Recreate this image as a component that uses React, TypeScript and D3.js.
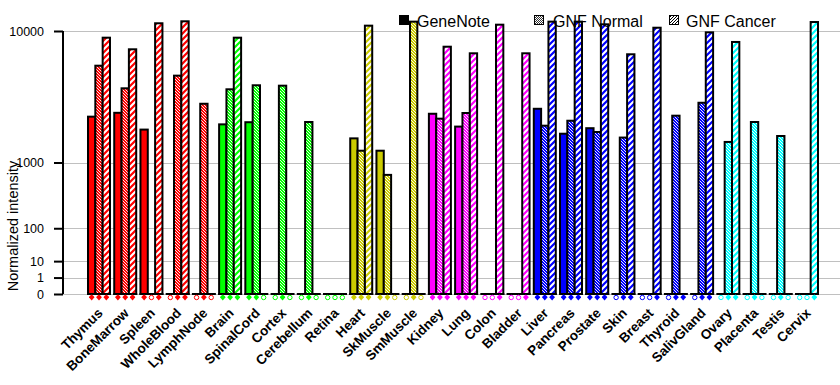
import * as React from 'react';
import { useRef, useEffect } from 'react';
import * as d3 from 'd3';

const categories = [
  'Thymus', 'BoneMarrow', 'Spleen', 'WholeBlood', 'LymphNode',
  'Brain', 'SpinalCord', 'Cortex', 'Cerebellum', 'Retina',
  'Heart', 'SkMuscle', 'SmMuscle',
  'Kidney', 'Lung', 'Colon', 'Bladder',
  'Liver', 'Pancreas', 'Prostate', 'Skin', 'Breast', 'Thyroid', 'SalivGland',
  'Ovary', 'Placenta', 'Testis', 'Cervix',
];

const geneNote = [2700, 2900, 2100, 0, 0, 2330, 2430, 0, 0, 0, 1750, 1330, 0, 2850, 2230, 0, 0, 3120, 1930, 2160, 0, 0, 0, 0, 0, 0, 0, 0];
const gnfNormal = [6250, 4420, 0, 5390, 3410, 4350, 4640, 4610, 2440, 0, 1330, 720, 11230, 2600, 2890, 0, 0, 2270, 2500, 2000, 1780, 0, 2750, 3470, 1620, 2440, 1840, 0];
const gnfCancer = [9180, 7870, 11010, 11280, 0, 9180, 0, 0, 0, 0, 10690, 0, 0, 8150, 7450, 10820, 7450, 11230, 11230, 10870, 7350, 10420, 0, 9830, 8680, 0, 0, 11180];

// P = present call (filled marker), A = absent (open marker)
const calls = [
  'PPP', 'PPP', 'PAP', 'APP', 'APA',
  'PPP', 'PPA', 'APA', 'APA', 'AAA',
  'PPP', 'PPA', 'APA',
  'PPP', 'PPP', 'AAP', 'AAP',
  'PPP', 'PPP', 'PPP', 'APP', 'AAP', 'APP', 'APP',
  'APP', 'APA', 'APA', 'AAP',
];

const seriesNames = ['GeneNote', 'GNF Normal', 'GNF Cancer'];
const yTicks = [0, 1, 10, 100, 1000, 10000];

// colour per tissue system
const systems: [string[], string][] = [
  [['Thymus', 'BoneMarrow', 'Spleen', 'WholeBlood', 'LymphNode'], '#ff0000'],
  [['Brain', 'SpinalCord', 'Cortex', 'Cerebellum', 'Retina'], '#00ff00'],
  [['Heart', 'SkMuscle', 'SmMuscle'], '#cccc00'],
  [['Kidney', 'Lung', 'Colon', 'Bladder'], '#ff00ff'],
  [['Liver', 'Pancreas', 'Prostate', 'Skin', 'Breast', 'Thyroid', 'SalivGland'], '#0000ff'],
  [['Ovary', 'Placenta', 'Testis', 'Cervix'], '#00ffff'],
];
const colorOf = (c: string) => (systems.find(s => s[0].includes(c)) || [[], '#000'])[1];

const FONT = 'Arial, "Liberation Sans", sans-serif';

export default function App() {
  const svgRef = useRef<SVGSVGElement | null>(null);

  useEffect(() => {
    if (!svgRef.current) return;
    const svg = d3.select(svgRef.current);
    svg.selectAll('*').remove();

    const left = 63, right = 840, bottom = 294, top = 31;

    const x = d3.scalePoint<string>().domain(categories).range([99, 807]);
    const y = d3.scalePow().exponent(Math.log10(2)).domain([0, 10000]).range([bottom, top]);
    const barW = 7.33;
    const groupW = barW * 3;

    // patterns
    const defs = svg.append('defs');
    const mkPatterns = (id: string, color: string, bg: string) => {
      const pn = defs.append('pattern')
        .attr('id', `norm-${id}`)
        .attr('patternUnits', 'userSpaceOnUse')
        .attr('width', 3).attr('height', 3);
      pn.append('rect').attr('width', 3).attr('height', 3).attr('fill', color);
      pn.append('path')
        .attr('d', 'M-1,-1L4,4M-1,2L1,4M2,-1L4,1')
        .attr('stroke', bg).attr('stroke-width', 0.9);

      const pc = defs.append('pattern')
        .attr('id', `canc-${id}`)
        .attr('patternUnits', 'userSpaceOnUse')
        .attr('width', 6).attr('height', 6);
      pc.append('rect').attr('width', 6).attr('height', 6).attr('fill', bg);
      pc.append('path')
        .attr('d', 'M-1,7L7,-1M-4,4L4,-4M2,10L10,2')
        .attr('stroke', color).attr('stroke-width', 2.2);
    };
    systems.forEach((s, i) => mkPatterns(String(i), s[1], '#ffffff'));
    // legend versions: black on white
    const pl = defs.append('pattern')
      .attr('id', 'norm-legend').attr('patternUnits', 'userSpaceOnUse')
      .attr('width', 2).attr('height', 2);
    pl.append('rect').attr('width', 2).attr('height', 2).attr('fill', '#fff');
    pl.append('path').attr('d', 'M-1,-1L3,3M-1,1L1,3M1,-1L3,1').attr('stroke', '#000').attr('stroke-width', 0.8);
    const pl2 = defs.append('pattern')
      .attr('id', 'canc-legend').attr('patternUnits', 'userSpaceOnUse')
      .attr('width', 3).attr('height', 3);
    pl2.append('rect').attr('width', 3).attr('height', 3).attr('fill', '#fff');
    pl2.append('path').attr('d', 'M-1,4L4,-1M-2,2L2,-2M1,5L5,1').attr('stroke', '#000').attr('stroke-width', 1);

    // gridlines
    svg.append('g')
      .selectAll('line')
      .data(yTicks)
      .join('line')
      .attr('x1', left).attr('x2', right)
      .attr('y1', d => Math.round(y(d)) + 0.5).attr('y2', d => Math.round(y(d)) + 0.5)
      .attr('stroke', '#c0c0c0').attr('stroke-width', 1);

    // y axis
    const axis = svg.append('g')
      .attr('transform', `translate(${left},0)`)
      .call(d3.axisLeft(y).tickValues(yTicks).tickFormat(d3.format('d')).tickSize(9).tickPadding(10));
    axis.select('.domain').attr('stroke', '#000').attr('stroke-width', 2)
      .attr('d', `M0,${top}V${bottom}`);
    axis.selectAll('.tick line').attr('stroke', '#000').attr('stroke-width', 2);
    axis.selectAll('.tick text')
      .attr('font-family', FONT).attr('font-size', 12.5).attr('fill', '#000');

    svg.append('text')
      .attr('transform', `translate(18,226) rotate(-90)`)
      .attr('text-anchor', 'middle')
      .attr('font-family', FONT).attr('font-size', 14.5)
      .text('Normalized intensity');

    const series = [geneNote, gnfNormal, gnfCancer];
    const gBars = svg.append('g');
    categories.forEach((c, i) => {
      const cx = x(c)!;
      const x0 = cx - groupW / 2;
      const col = colorOf(c);
      const sysIdx = systems.findIndex(s => s[0].includes(c));
      // baseline of the group
      gBars.append('line')
        .attr('x1', x0 - 1).attr('x2', x0 + groupW + 1)
        .attr('y1', bottom).attr('y2', bottom)
        .attr('stroke', '#000').attr('stroke-width', 2);
      series.forEach((s, j) => {
        const v = s[i];
        if (v <= 0) return;
        const fill = j === 0 ? col : j === 1 ? `url(#norm-${sysIdx})` : `url(#canc-${sysIdx})`;
        gBars.append('rect')
          .attr('x', x0 + j * barW)
          .attr('y', y(v))
          .attr('width', barW)
          .attr('height', bottom - y(v))
          .attr('fill', fill)
          .attr('stroke', '#000')
          .attr('stroke-width', 2);
      });
      // call markers
      calls[i].split('').forEach((k, j) => {
        const mx = x0 + j * barW + barW / 2;
        const my = 297.5;
        if (k === 'P') {
          gBars.append('path')
            .attr('d', `M${mx},${my - 3}Q${mx + 3},${my - 1} ${mx + 2.6},${my}L${mx},${my + 3}L${mx - 2.6},${my}Q${mx - 3},${my - 1} ${mx},${my - 3}Z`)
            .attr('fill', col);
        } else {
          gBars.append('circle').attr('cx', mx).attr('cy', my).attr('r', 2.2)
            .attr('fill', 'none').attr('stroke', col).attr('stroke-width', 1);
        }
      });
      // category label
      svg.append('text')
        .attr('transform', `translate(${cx + 4.5},${314}) rotate(-45)`)
        .attr('text-anchor', 'end')
        .attr('font-family', FONT).attr('font-size', 13.5).attr('font-weight', 'bold')
        .text(c);
    });

    // legend
    const legend = svg.append('g').attr('font-family', FONT).attr('font-size', 16);
    const legendItems = [
      { x: 399, box: '#000', tx: 417 },
      { x: 534, box: 'url(#norm-legend)', tx: 553 },
      { x: 669, box: 'url(#canc-legend)', tx: 686 },
    ];
    seriesNames.forEach((name, j) => {
      const it = legendItems[j];
      legend.append('rect')
        .attr('x', it.x + 0.5).attr('y', 15.5).attr('width', 9).attr('height', 9)
        .attr('fill', it.box).attr('stroke', '#000').attr('stroke-width', 1);
      legend.append('text').attr('x', it.tx).attr('y', 27).text(name);
    });
  }, []);

  return (
    <div style={{ position: 'absolute', left: 0, top: 0 }}>
      <svg ref={svgRef} width={840} height={385} style={{ display: 'block', background: '#fff' }} />
    </div>
  );
}
